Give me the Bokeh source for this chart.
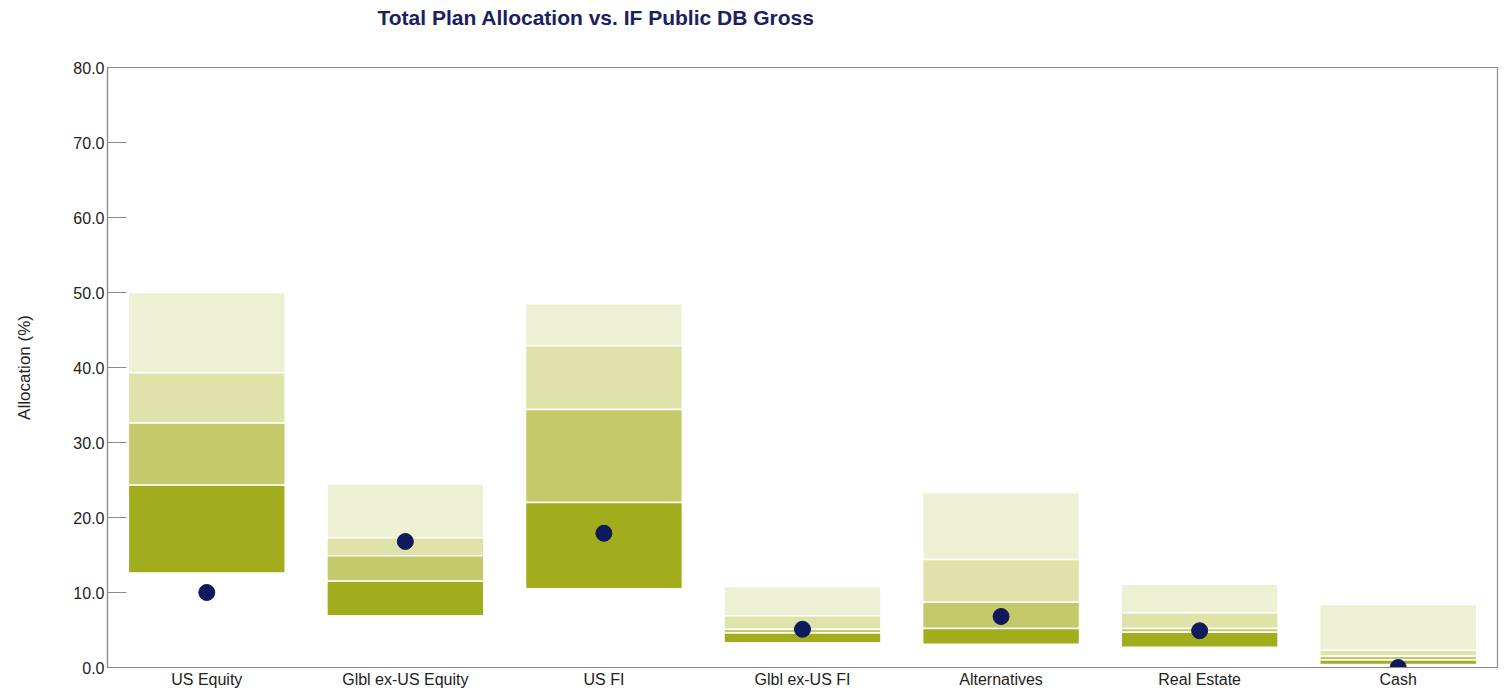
from bokeh.plotting import figure
from bokeh.models import FactorRange, FixedTicker, NumeralTickFormatter, ColumnDataSource, Title
from bokeh.embed import file_html
from bokeh.resources import INLINE

categories = ["US Equity", "Glbl ex-US Equity", "US FI", "Glbl ex-US FI",
              "Alternatives", "Real Estate", "Cash"]
p95 = [50.0, 24.5, 48.5, 10.8, 23.3, 11.1, 8.4]
p75 = [39.3, 17.3, 42.9, 6.9, 14.4, 7.3, 2.3]
p50 = [32.6, 14.9, 34.4, 5.1, 8.7, 5.2, 1.5]
p25 = [24.3, 11.5, 22.0, 4.6, 5.2, 4.7, 1.0]
p5 = [12.6, 6.9, 10.5, 3.3, 3.1, 2.7, 0.4]
plan = [10.0, 16.8, 17.9, 5.1, 6.8, 4.9, 0.0]
y_ticks = [0, 10, 20, 30, 40, 50, 60, 70, 80]
title_text = "Total Plan Allocation vs. IF Public DB Gross"

band_colors = ["#eef0d4", "#dfe3aa", "#c4ca6a", "#a2ad1e"]

src = ColumnDataSource(dict(cat=categories, p95=p95, p75=p75, p50=p50,
                            p25=p25, p5=p5, plan=plan))

p = figure(x_range=FactorRange(*categories, range_padding=0), y_range=(0, 80),
           frame_width=1390, frame_height=600, output_backend="svg", toolbar_location=None,
           min_border_left=107, min_border_right=7, min_border_top=67,
           min_border_bottom=25, title=title_text)

p.title.text_font = "Liberation Sans"
p.title.text_font_size = "21px"
p.title.text_font_style = "bold"
p.title.text_color = "#1b2060"
p.title.align = "left"
p.title.offset = 270
p.title.standoff = 6

# invisible spacer panel between title and frame
spacer = Title(text=" ", text_font_size="1px", standoff=33, text_color="white")
p.add_layout(spacer, "above")

w = 0.79
pairs = [("p75", "p95"), ("p50", "p75"), ("p25", "p50"), ("p5", "p25")]
for (b, t), c in zip(pairs, band_colors):
    p.vbar(x="cat", bottom=b, top=t, width=w, source=src, fill_color=c,
           line_color="white", line_width=1.5)

p.scatter(x="cat", y="plan", source=src, size=16, color="#0e1a5b")

p.xgrid.visible = False
p.ygrid.visible = False
p.outline_line_color = "#8a8a8a"
p.outline_line_width = 1.2

for ax in (p.xaxis[0], p.yaxis[0]):
    ax.axis_line_color = "#8a8a8a"
    ax.axis_line_width = 1.2
    ax.major_label_text_font = "Liberation Sans"
    ax.major_label_text_font_size = "16px"
    ax.major_label_text_color = "#222222"
    ax.minor_tick_line_color = None

p.xaxis.major_tick_line_color = None
p.xaxis.major_label_standoff = -3

p.yaxis.ticker = FixedTicker(ticks=y_ticks)
p.yaxis.formatter = NumeralTickFormatter(format="0.0")
p.yaxis.major_tick_in = 19
p.yaxis.major_tick_out = 0
p.yaxis.major_tick_line_color = "#8a8a8a"
p.yaxis.major_label_standoff = 3
p.yaxis.axis_label = "Allocation (%)"
p.yaxis.axis_label_text_font = "Liberation Sans"
p.yaxis.axis_label_text_font_style = "normal"
p.yaxis.axis_label_text_font_size = "17px"
p.yaxis.axis_label_text_color = "#222222"
p.yaxis.axis_label_standoff = 36

open("out.html", "w").write(file_html(p, INLINE))
